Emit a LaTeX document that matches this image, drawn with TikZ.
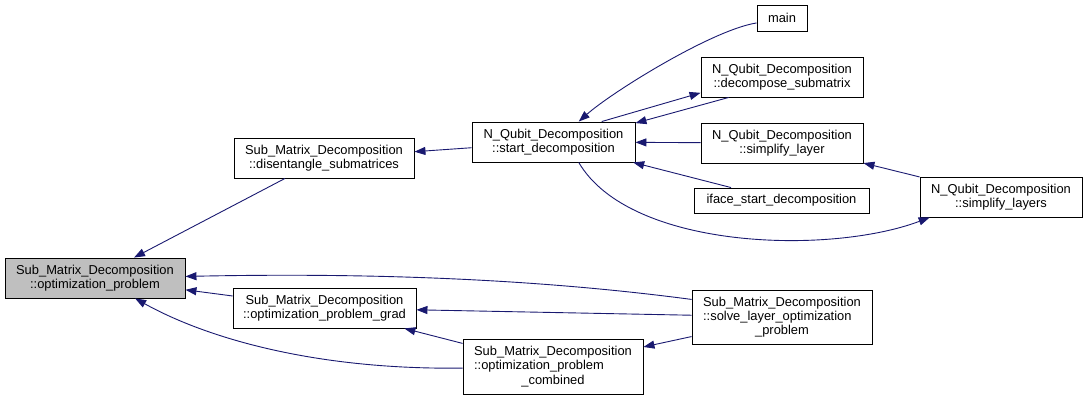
\documentclass[tikz,border=0pt]{standalone}
\usepackage{fontspec}
\setmainfont{Liberation Sans}
\usetikzlibrary{arrows.meta}
\definecolor{edgec}{HTML}{191970}
\definecolor{hl}{HTML}{BFBFBF}
\newcommand{\myleftln}[2]{\rlap{#2}\phantom{#1}}
\tikzset{
  box/.style={draw=black, line width=0.9pt, fill=white, inner sep=0pt, align=center,
    font=\fontsize{12.9}{14.2}\selectfont, text=black},
  edge/.style={draw=edgec, line width=0.9pt, -{Triangle[length=11pt,width=8pt]}},
}
\begin{document}
\begin{tikzpicture}[x=1pt,y=1pt]
\useasboundingbox (0,0) rectangle (1088,-400);
% nodes
\node[box, fill=hl, minimum width=180, minimum height=40] (opt) at (95,-278)
  {Sub\_Matrix\_Decomposition\\::optimization\_problem};
\node[box, minimum width=183, minimum height=40] (grad) at (324.5,-308)
  {Sub\_Matrix\_Decomposition\\::optimization\_problem\_grad};
\node[box, minimum width=180, minimum height=55] (comb) at (553,-366.5)
  {Sub\_Matrix\_Decomposition\\\myleftln{Sub\_Matrix\_Decomposition}{::optimization\_problem}\\\_combined};
\node[box, minimum width=180, minimum height=54] (solve) at (782,-317)
  {Sub\_Matrix\_Decomposition\\\myleftln{Sub\_Matrix\_Decomposition}{::solve\_layer\_optimization}\\\_problem};
\node[box, minimum width=180, minimum height=40] (dis) at (324,-158)
  {Sub\_Matrix\_Decomposition\\::disentangle\_submatrices};
\node[box, minimum width=163, minimum height=40] (start) at (553.5,-142)
  {N\_Qubit\_Decomposition\\::start\_decomposition};
\node[box, minimum width=50, minimum height=26] (main) at (782,-18) {main};
\node[box, minimum width=162, minimum height=40] (dec) at (782,-77)
  {N\_Qubit\_Decomposition\\::decompose\_submatrix};
\node[box, minimum width=162, minimum height=40] (sl) at (782,-143)
  {N\_Qubit\_Decomposition\\::simplify\_layer};
\node[box, minimum width=175, minimum height=25] (iface) at (781.5,-200.5)
  {iface\_start\_decomposition};
\node[box, minimum width=162, minimum height=40] (sls) at (1001,-197)
  {N\_Qubit\_Decomposition\\::simplify\_layers};
% edges
\draw[edge] (dis) -- (opt);
\draw[edge] (grad) -- (opt);
\draw[edge] (solve.169) .. controls (560,-282) and (400,-272) .. (opt.1);
\draw[edge] (comb.181) .. controls (320,-370) and (210,-340) .. (opt.-27);
\draw[edge] (solve) -- (grad);
\draw[edge] (comb) -- (grad);
\draw[edge] (solve) -- (comb);
\draw[edge] (start) -- (dis);
\draw[edge] (main.191) .. controls (712,-30) and (612,-92) .. (start.39);
\draw[edge] (start.23) -- (dec.191);
\draw[edge] (dec.201) -- (start.13);
\draw[edge] (sl) -- (start);
\draw[edge] (iface) -- (start);
\draw[edge] (start.-39) .. controls (630,-250) and (830,-255) .. (sls.196);
\draw[edge] (sls) -- (sl);
\end{tikzpicture}
\end{document}
